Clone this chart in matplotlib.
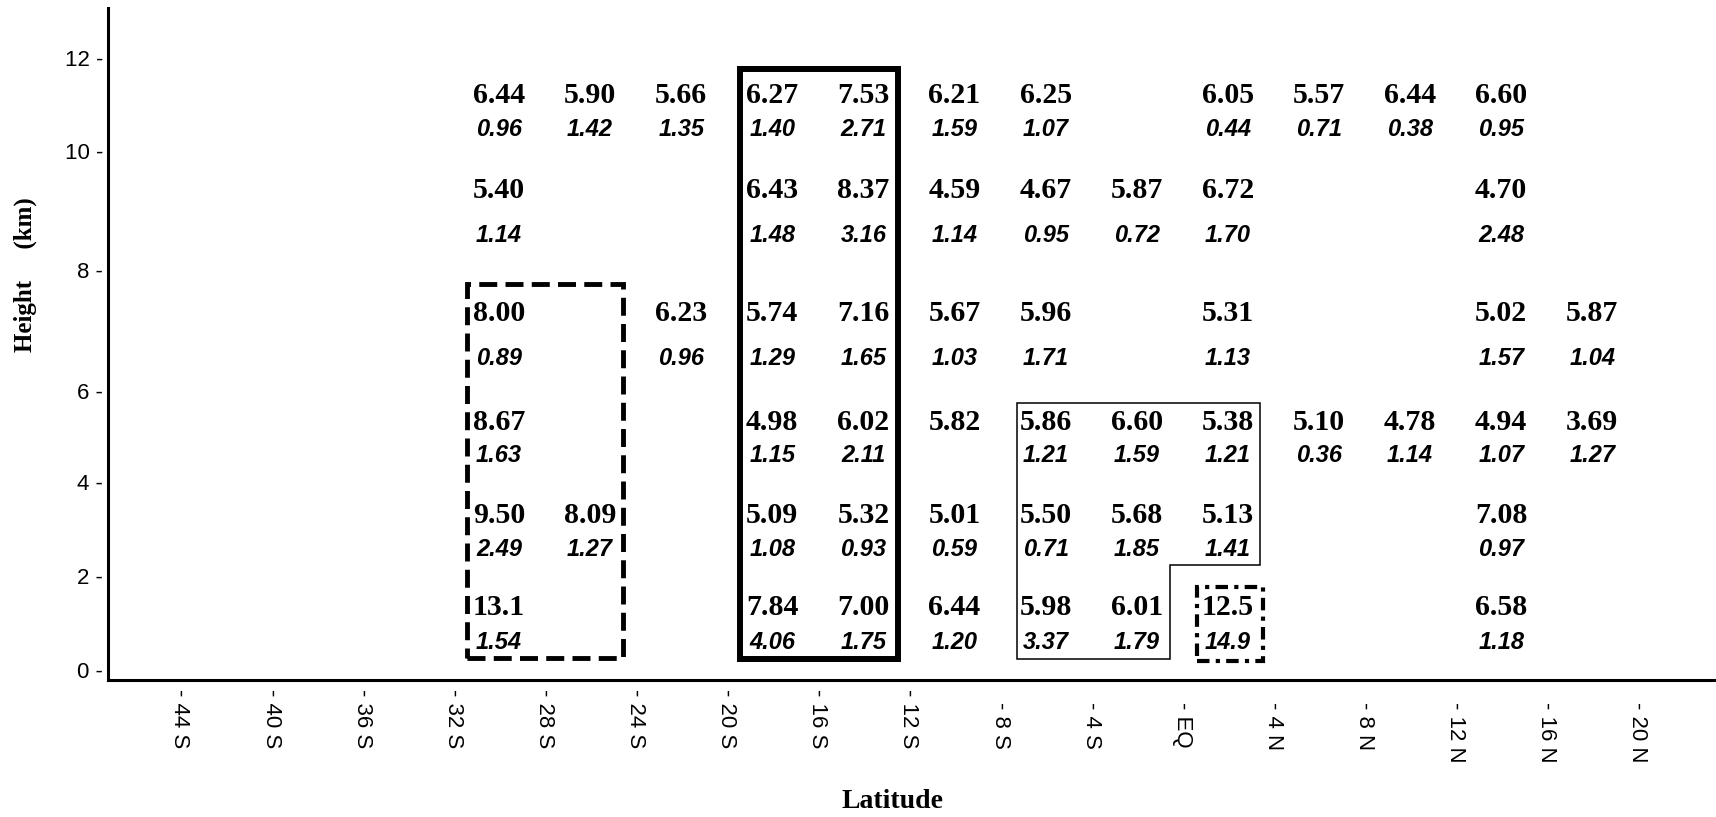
import matplotlib.pyplot as plt
import numpy as np
from matplotlib.patches import Rectangle, Polygon

plt.switch_backend('agg')

# Latitude columns (cell centres, deg; negative = south) and height rows (km)
lat_centers = [-30, -26, -22, -18, -14, -10, -6, -2, 2, 6, 10, 14, 18]
heights = [11, 9, 7, 5, 3, 1]
nan = np.nan

# Mean values per cell, one list per height row (top to bottom)
mean_11 = [6.44, 5.90, 5.66, 6.27, 7.53, 6.21, 6.25, nan, 6.05, 5.57, 6.44, 6.60, nan]
mean_9 = [5.40, nan, nan, 6.43, 8.37, 4.59, 4.67, 5.87, 6.72, nan, nan, 4.70, nan]
mean_7 = [8.00, nan, 6.23, 5.74, 7.16, 5.67, 5.96, nan, 5.31, nan, nan, 5.02, 5.87]
mean_5 = [8.67, nan, nan, 4.98, 6.02, 5.82, 5.86, 6.60, 5.38, 5.10, 4.78, 4.94, 3.69]
mean_3 = [9.50, 8.09, nan, 5.09, 5.32, 5.01, 5.50, 5.68, 5.13, nan, nan, 7.08, nan]
mean_1 = [13.1, nan, nan, 7.84, 7.00, 6.44, 5.98, 6.01, 12.5, nan, nan, 6.58, nan]

# Standard deviations per cell (italic line)
sd_11 = [0.96, 1.42, 1.35, 1.40, 2.71, 1.59, 1.07, nan, 0.44, 0.71, 0.38, 0.95, nan]
sd_9 = [1.14, nan, nan, 1.48, 3.16, 1.14, 0.95, 0.72, 1.70, nan, nan, 2.48, nan]
sd_7 = [0.89, nan, 0.96, 1.29, 1.65, 1.03, 1.71, nan, 1.13, nan, nan, 1.57, 1.04]
sd_5 = [1.63, nan, nan, 1.15, 2.11, nan, 1.21, 1.59, 1.21, 0.36, 1.14, 1.07, 1.27]
sd_3 = [2.49, 1.27, nan, 1.08, 0.93, 0.59, 0.71, 1.85, 1.41, nan, nan, 0.97, nan]
sd_1 = [1.54, nan, nan, 4.06, 1.75, 1.20, 3.37, 1.79, 14.9, nan, nan, 1.18, nan]

means = [mean_11, mean_9, mean_7, mean_5, mean_3, mean_1]
sds = [sd_11, sd_9, sd_7, sd_5, sd_3, sd_1]

# Axis ticks
lat_ticks = [-44, -40, -36, -32, -28, -24, -20, -16, -12, -8, -4, 0, 4, 8, 12, 16, 20]
lat_labels = ['44 S', '40 S', '36 S', '32 S', '28 S', '24 S', '20 S', '16 S', '12 S',
              '8 S', '4 S', 'EQ', '4 N', '8 N', '12 N', '16 N', '20 N']
height_ticks = [0, 2, 4, 6, 8, 10, 12]

# The height axis is drawn with uneven tick spacing: piecewise-linear scale
knots_km = [-2, 0, 2, 4, 6, 8, 10, 12, 14]
knots_pos = [-94, 0, 94, 188, 279, 400, 519, 612, 705]


def fwd(v):
    return np.interp(v, knots_km, knots_pos)


def inv(v):
    return np.interp(v, knots_pos, knots_km)


# vertical gap (px) between mean and sd line in each row, and a small nudge down
row_gap = [35, 46, 46, 33, 35, 35]
row_nudge = [5.5, 0, 3, 0, 1, -0.5]


def fmt(v):
    return f'{v:.2f}' if v < 10 else f'{v:.1f}'


W, H = 1716, 817
fig = plt.figure(figsize=(W / 100, H / 100), dpi=100)
ax = fig.add_axes([108 / W, (H - 680) / H, (W - 108) / W, (680 - 8) / H])

ax.set_yscale('function', functions=(fwd, inv))
ax.set_xlim(-47.16, 23.43)
ax.set_ylim(-0.213, 13.075)

for s in ['top', 'right']:
    ax.spines[s].set_visible(False)
for s in ['left', 'bottom']:
    ax.spines[s].set_linewidth(2.2)

ax.set_yticks(height_ticks)
ax.set_yticklabels([f'{t} -' for t in height_ticks])
ax.set_xticks(lat_ticks)
ax.set_xticklabels([f'- {l}' for l in lat_labels], rotation=-90, ha='center', va='top')
ax.tick_params(axis='both', length=0, labelsize=16)
for lab in ax.get_xticklabels() + ax.get_yticklabels():
    lab.set_family('Liberation Sans')
ax.tick_params(axis='y', pad=3.5)
for i, t in enumerate(ax.xaxis.get_major_ticks()):
    t.set_pad(6.5 if lat_ticks[i] <= -12 else 16)

px = 72 / 100  # points per pixel
for r, h in enumerate(heights):
    half = row_gap[r] / 2 * px
    shift = -row_nudge[r] * px
    for c, lat in enumerate(lat_centers):
        m = means[r][c]
        s = sds[r][c]
        if not np.isnan(m):
            ax.annotate(fmt(m), (lat, h), xytext=(0, half + shift), textcoords='offset points',
                        ha='center', va='center_baseline', fontsize=21.5,
                        family='Liberation Serif', weight='bold')
        if not np.isnan(s):
            ax.annotate(fmt(s), (lat, h), xytext=(0, -half + shift), textcoords='offset points',
                        ha='center', va='center_baseline', fontsize=17,
                        family='Liberation Sans', weight='bold', style='italic')

# Outlined groups of cells
ax.add_patch(Rectangle((-31.4, 0.26), 6.85, 7.51, fill=False, lw=3.5, ec='black',
                       linestyle=(0, (3.7, 1.7)), joinstyle='miter'))
ax.add_patch(Rectangle((-19.42, 0.23), 6.94, 11.53, fill=False, lw=4.3, ec='black',
                       joinstyle='miter'))
ax.add_patch(Polygon([(-7.26, 5.74), (3.41, 5.74), (3.41, 2.23), (-0.54, 2.23),
                      (-0.54, 0.23), (-7.26, 0.23)], closed=True, fill=False,
                     lw=1.1, ec='black', joinstyle='miter'))
ax.add_patch(Rectangle((0.64, 0.19), 2.9, 1.58, fill=False, lw=3, ec='black',
                       linestyle=(0, (3, 1.5, 1, 1.5)), joinstyle='miter'))

fig.text(25 / W, 1 - 275 / H, 'Height     (km)', rotation=90, ha='center', va='center',
         fontsize=18, family='Liberation Serif', weight='bold')
fig.text(892 / W, 1 - 802 / H, 'Latitude', ha='center', va='center',
         fontsize=20, family='Liberation Serif', weight='bold')

fig.savefig('out.png', dpi=100)
